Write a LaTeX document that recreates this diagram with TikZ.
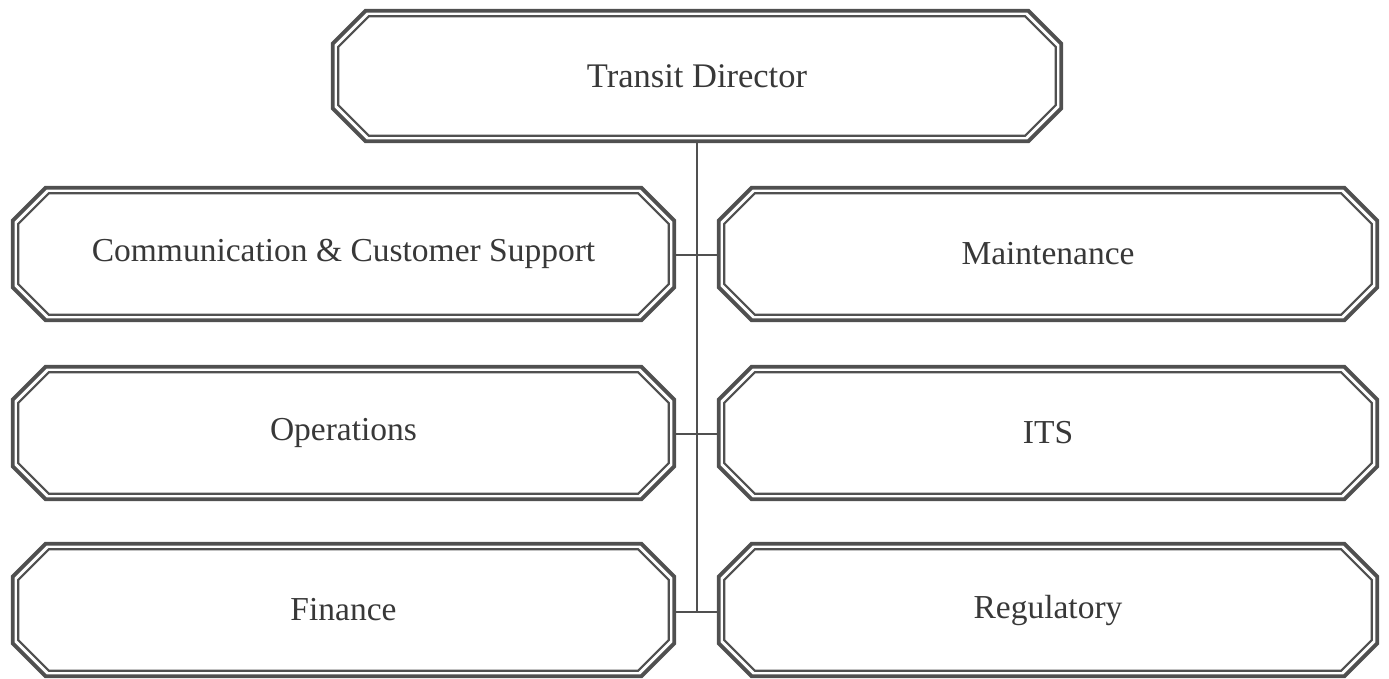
\documentclass[tikz,border=0pt]{standalone}
\usepackage{fontspec}
\setmainfont{Liberation Serif}
\usetikzlibrary{calc}
\definecolor{ink}{HTML}{505050}
\definecolor{txt}{HTML}{383838}
\tikzset{
  unit/.style={minimum width=#1, minimum height=136pt, inner sep=0pt,
    text=txt, font=\fontsize{33.5pt}{38pt}\selectfont},
  outerline/.style={draw=ink, line width=3.8pt, line join=miter},
  innerline/.style={draw=ink, line width=2.2pt, line join=miter},
  link/.style={draw=ink, line width=2pt}
}
% chamfered outline inside node #1, inset #2, chamfer #3
\newcommand\chamferline[4]{%
  \draw[#4] ($(#1.north west)+(#2+#3,#2)$) -- ($(#1.north east)+(-#2-#3,#2)$)
    -- ($(#1.north east)+(-#2,#2+#3)$) -- ($(#1.south east)+(-#2,-#2-#3)$)
    -- ($(#1.south east)+(-#2-#3,-#2)$) -- ($(#1.south west)+(#2+#3,-#2)$)
    -- ($(#1.south west)+(#2,-#2-#3)$) -- ($(#1.north west)+(#2,#2+#3)$) -- cycle;}
\begin{document}
\begin{tikzpicture}[x=1pt,y=-1pt]
  \useasboundingbox (0,0) rectangle (1389,679);
  \fill[white] (0,0) rectangle (1389,679);

  \node[unit=732pt, minimum height=134pt, font=\fontsize{34.5pt}{39pt}\selectfont]
    (dir) at (697,76) {Transit Director};

  \node[unit=665pt] (comm)  at (343.5,254) {Communication \& Customer Support};
  \node[unit=662pt] (maint) at (1048,254)  {Maintenance};
  \node[unit=665pt] (ops)   at (343.5,433) {Operations};
  \node[unit=662pt] (its)   at (1048,433)  {ITS};
  \node[unit=665pt] (fin)   at (343.5,610) {Finance};
  \node[unit=662pt] (reg)   at (1048,610)  {Regulatory};

  \foreach \n in {dir,comm,maint,ops,its,fin,reg}{
    \chamferline{\n}{1.9}{33}{outerline}
    \chamferline{\n}{7.4}{30.7}{innerline}
  }

  % spine from the director down to the last row
  \coordinate (spine) at (dir.south |- fin.east);
  \draw[link] (dir.south) -- ($(spine)+(0,2)$);
  \draw[link] ($(comm.east)+(0,1)$) -- ($(maint.west)+(0,1)$);
  \draw[link] ($(ops.east)+(0,1)$) -- ($(its.west)+(0,1)$);
  \draw[link] ($(fin.east)+(0,2)$) -- ($(reg.west)+(0,2)$);
\end{tikzpicture}
\end{document}
